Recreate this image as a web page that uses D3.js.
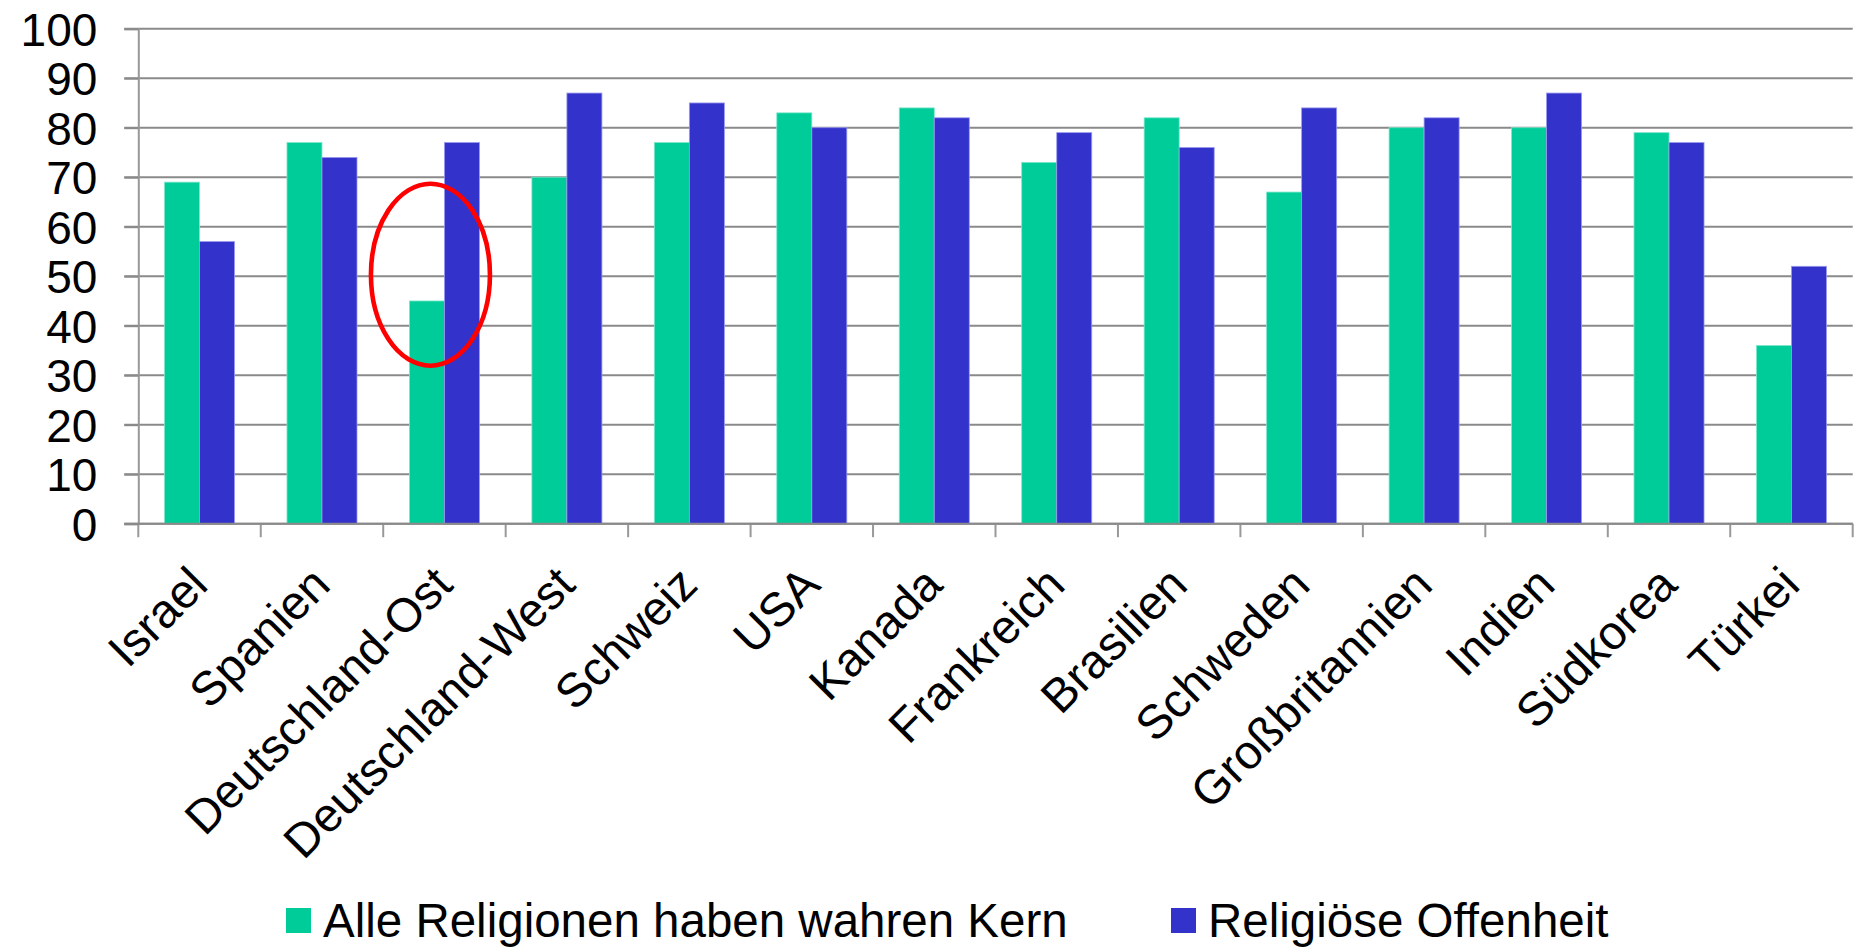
<!DOCTYPE html>
<html lang="de">
<head>
<meta charset="utf-8">
<title>Religiöse Offenheit</title>
<script src="https://cdn.jsdelivr.net/npm/d3@7"></script>
<style>
  html, body { margin: 0; padding: 0; background: #fff; }
  svg { display: block; font-family: "Liberation Sans", Arial, sans-serif; }
</style>
</head>
<body>
<svg id="chart" width="1861" height="947"></svg>
<script>
// Länder (Kategorien)
const countries = [
  "Israel", "Spanien", "Deutschland-Ost", "Deutschland-West", "Schweiz", "USA",
  "Kanada", "Frankreich", "Brasilien", "Schweden", "Großbritannien", "Indien",
  "Südkorea", "Türkei"
];
// Zustimmung in Prozent
const wahrerKern = [69, 77, 45, 70, 77, 83, 84, 73, 82, 67, 80, 80, 79, 36];
const offenheit  = [57, 74, 77, 87, 85, 80, 82, 79, 76, 84, 82, 87, 77, 52];
const seriesNames = ["Alle Religionen haben wahren Kern", "Religiöse Offenheit"];
const seriesColors = ["#00CC99", "#3333CC"];
const seriesStrokes = ["#7FE6CC", "#9A9AEE"];
const yTicks = [0, 10, 20, 30, 40, 50, 60, 70, 80, 90, 100];
// Hervorhebung
const highlight = { category: "Deutschland-Ost", value: 50.3, dx: -14, rx: 59.5, ry: 91 };

const svg = d3.select("#chart");
const plot = { left: 138.3, right: 1852.7, top: 28.7, bottom: 523.7 };
const tickFont = 46;
const labelFont = 47.5;

const x = d3.scaleBand()
  .domain(countries)
  .range([plot.left, plot.right])
  .paddingInner(0.428)
  .paddingOuter(0.214);

const xSeries = d3.scaleBand()
  .domain(seriesNames)
  .range([0, x.bandwidth()]);

const y = d3.scaleLinear().domain([0, 100]).range([plot.bottom, plot.top]);

const gridColor = "#8A8A8A";

// horizontale Gitterlinien
svg.append("g")
  .selectAll("line")
  .data(yTicks)
  .join("line")
  .attr("x1", plot.left - 14)
  .attr("x2", plot.right)
  .attr("y1", d => y(d))
  .attr("y2", d => y(d))
  .attr("stroke", gridColor)
  .attr("stroke-width", 2);

// y-Achse
const yAxis = svg.append("g")
  .attr("transform", `translate(${plot.left},0)`)
  .call(d3.axisLeft(y).tickValues(yTicks).tickSize(14).tickPadding(27).tickFormat(d3.format("d")));
yAxis.select(".domain").attr("stroke", "#999").attr("stroke-width", 2);
yAxis.selectAll(".tick line").attr("stroke", gridColor).attr("stroke-width", 2);
yAxis.selectAll(".tick text")
  .attr("font-size", tickFont)
  .attr("font-family", "Liberation Sans, Arial, sans-serif")
  .attr("fill", "#000")
  .attr("dy", "0.36em");

// Kategoriegrenzen an der x-Achse
const boundaries = countries.map(c => x(c) - x.step() * x.paddingOuter()).concat([plot.right]);
svg.append("g")
  .selectAll("line")
  .data(boundaries)
  .join("line")
  .attr("x1", d => d)
  .attr("x2", d => d)
  .attr("y1", plot.bottom)
  .attr("y2", plot.bottom + 13.5)
  .attr("stroke", "#999")
  .attr("stroke-width", 2);

// Balken
const rows = countries.map((c, i) => ({ country: c, values: [wahrerKern[i], offenheit[i]] }));
const groups = svg.append("g")
  .selectAll("g")
  .data(rows)
  .join("g")
  .attr("transform", d => `translate(${x(d.country)},0)`);

groups.selectAll("rect")
  .data(d => d.values.map((v, k) => ({ name: seriesNames[k], k, v })))
  .join("rect")
  .attr("x", d => xSeries(d.name))
  .attr("y", d => y(d.v))
  .attr("width", xSeries.bandwidth())
  .attr("height", d => y(0) - y(d.v))
  .attr("fill", d => seriesColors[d.k])
  .attr("stroke", d => seriesStrokes[d.k])
  .attr("stroke-width", 0.8);

// x-Achsenlinie
svg.append("line")
  .attr("x1", plot.left - 14)
  .attr("x2", plot.right)
  .attr("y1", y(0))
  .attr("y2", y(0))
  .attr("stroke", gridColor)
  .attr("stroke-width", 2);

// Länderbeschriftungen, um 45° gedreht (Grundlinie endet unter der Kategorie)
svg.append("g")
  .selectAll("text")
  .data(countries)
  .join("text")
  .attr("transform", d => `translate(${x(d) + x.bandwidth() / 2 + 10.5},${plot.bottom + 63.5}) rotate(-45)`)
  .attr("text-anchor", "end")
  .attr("font-size", labelFont)
  .attr("fill", "#000")
  .text(d => d);

// rote Ellipse um Deutschland-Ost
svg.append("ellipse")
  .attr("cx", x(highlight.category) + x.bandwidth() / 2 + highlight.dx)
  .attr("cy", y(highlight.value))
  .attr("rx", highlight.rx)
  .attr("ry", highlight.ry)
  .attr("fill", "none")
  .attr("stroke", "#FF0000")
  .attr("stroke-width", 4.6);

// Legende
const legendItems = [
  { name: seriesNames[0], color: seriesColors[0], x: 286 },
  { name: seriesNames[1], color: seriesColors[1], x: 1171 }
];
const legend = svg.append("g").selectAll("g")
  .data(legendItems)
  .join("g")
  .attr("transform", d => `translate(${d.x},908)`);
legend.append("rect")
  .attr("width", 25)
  .attr("height", 25)
  .attr("fill", d => d.color);
legend.append("text")
  .attr("x", 37)
  .attr("y", 28.5)
  .attr("font-size", labelFont)
  .attr("fill", "#000")
  .text(d => d.name);
</script>
</body>
</html>
